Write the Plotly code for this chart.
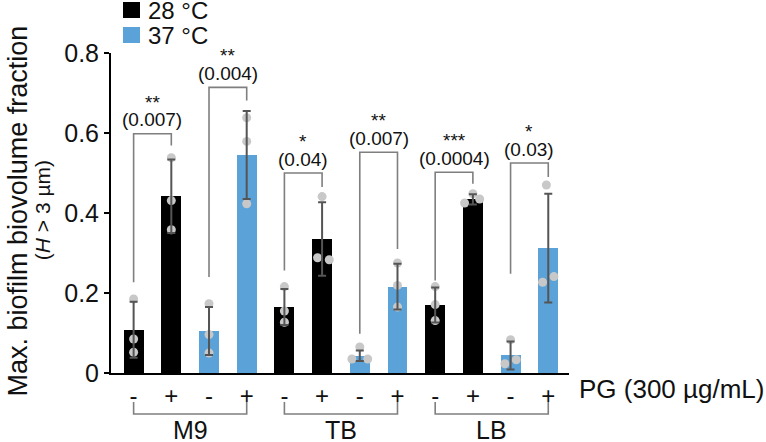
import plotly.graph_objects as go

# ---------------- data ----------------
conditions = ["-", "+", "-", "+", "-", "+", "-", "+", "-", "+", "-", "+"]
media = ["M9", "TB", "LB"]
temps = ["28 °C", "28 °C", "37 °C", "37 °C"] * 3
means = [0.108, 0.442, 0.105, 0.545,
         0.165, 0.335, 0.043, 0.216,
         0.170, 0.434, 0.044, 0.312]
errors = [0.070, 0.092, 0.060, 0.110,
          0.045, 0.092, 0.013, 0.057,
          0.044, 0.013, 0.035, 0.136]
replicates = [
    [0.185, 0.085, 0.052], [0.538, 0.431, 0.358], [0.173, 0.096, 0.050], [0.638, 0.579, 0.423],
    [0.216, 0.155, 0.127], [0.441, 0.288, 0.283], [0.065, 0.035, 0.035], [0.275, 0.219, 0.165],
    [0.216, 0.171, 0.131], [0.425, 0.448, 0.435], [0.083, 0.023, 0.033], [0.470, 0.227, 0.241],
]
jitter = [
    [0, 0, 0], [0, 0, 0], [0, 0, 0], [0, 0, 0],
    [0, 0, 0], [0, -0.12, 0.19], [0, -0.21, 0.21], [0, 0, 0],
    [0, 0, 0], [-0.22, 0, 0.18], [0, -0.15, 0.15], [-0.05, -0.15, 0.15],
]
sig_pairs = [(0, 1), (2, 3), (4, 5), (6, 7), (8, 9), (10, 11)]
sig_top = [0.598, 0.714, 0.500, 0.552, 0.502, 0.525]
sig_left_bottom = [0.227, 0.240, 0.256, 0.098, 0.231, 0.248]
sig_right_bottom = [0.569, 0.681, 0.465, 0.310, 0.473, 0.490]
sig_p = ["(0.007)", "(0.004)", "(0.04)", "(0.007)", "(0.0004)", "(0.03)"]
sig_stars = ["**", "**", "*", "**", "***", "*"]
yticks = [0, 0.2, 0.4, 0.6, 0.8]

# ---------------- style ----------------
COL = {"28 °C": "#000000", "37 °C": "#5aa2d8"}
FONT = "Liberation Sans, Arial, sans-serif"
PT_COL = "#c8c8c8"
ERR_COL = "#555555"
BR_COL = "#7f7f7f"

xs = list(range(len(conditions)))
fig = go.Figure()

for t in ["28 °C", "37 °C"]:
    idx = [i for i in xs if temps[i] == t]
    fig.add_trace(go.Bar(
        x=idx, y=[means[i] for i in idx], name=t,
        marker=dict(color=COL[t], line=dict(width=0)),
        width=0.53, showlegend=False))

# replicate points
px, py = [], []
for i in xs:
    for v, j in zip(replicates[i], jitter[i]):
        px.append(i + j)
        py.append(v)
fig.add_trace(go.Scatter(x=px, y=py, mode="markers",
                         marker=dict(color=PT_COL, size=9, line=dict(width=0)),
                         showlegend=False, cliponaxis=False))

# error bars on top
fig.add_trace(go.Scatter(x=xs, y=means, mode="markers",
                         marker=dict(size=0.1, color="rgba(0,0,0,0)"),
                         error_y=dict(type="data", array=errors, visible=True,
                                      color=ERR_COL, thickness=2, width=4),
                         showlegend=False))

# significance brackets
for k, (a, b) in enumerate(sig_pairs):
    fig.add_trace(go.Scatter(
        x=[a, a, b, b],
        y=[sig_left_bottom[k], sig_top[k], sig_top[k], sig_right_bottom[k]],
        mode="lines", line=dict(color=BR_COL, width=1.6),
        showlegend=False, hoverinfo="skip"))
    xm = (a + b) / 2
    fig.add_annotation(x=xm, y=sig_top[k] + 0.035, text=sig_p[k], showarrow=False,
                       xref="x", yref="y", yanchor="middle",
                       font=dict(size=19, color="#111111", family=FONT))
    fig.add_annotation(x=xm, y=sig_top[k] + 0.079, text=sig_stars[k], showarrow=False,
                       xref="x", yref="y", yanchor="middle",
                       font=dict(size=19, color="#111111", family=FONT))

# group brackets under x axis
for g, m in enumerate(media):
    a, b = 4 * g, 4 * g + 3
    fig.add_shape(type="path", xref="x", yref="paper",
                  path=f"M {a} -0.0906 L {a} -0.128 L {b} -0.128 L {b} -0.0906",
                  line=dict(color=BR_COL, width=1.6))
    fig.add_annotation(x=(a + b) / 2, y=-0.178, xref="x", yref="paper", text=m,
                       showarrow=False, yanchor="middle",
                       font=dict(size=25, color="#111111", family=FONT))

fig.add_annotation(x=1.0175, y=-0.05, xref="paper", yref="paper", text="PG (300 µg/mL)",
                   showarrow=False, xanchor="left", yanchor="middle",
                   font=dict(size=26, color="#111111", family=FONT))

# y-axis title
fig.add_annotation(x=-0.203, y=0.505, xref="paper", yref="paper",
                   text="Max. biofilm biovolume fraction", textangle=-90,
                   showarrow=False, xanchor="center", yanchor="middle",
                   font=dict(size=27, color="#111111", family=FONT))
fig.add_annotation(x=-0.1505, y=0.509, xref="paper", yref="paper",
                   text="(<i>H</i> > 3 µm)", textangle=-90,
                   showarrow=False, xanchor="center", yanchor="middle",
                   font=dict(size=21, color="#111111", family=FONT))

# manual legend
for r, t in enumerate(["28 °C", "37 °C"]):
    top = 2 + r * 25
    fig.add_shape(type="rect", xref="paper", yref="paper",
                  x0=(123 - 111) / 458, x1=(140 - 111) / 458,
                  y0=(373 - top) / 320, y1=(373 - top - 16) / 320,
                  fillcolor=COL[t], line=dict(width=0))
    fig.add_annotation(x=(146 - 111) / 458, y=(373 - top - 8) / 320, xref="paper", yref="paper",
                       text=t, showarrow=False, xanchor="left", yanchor="middle",
                       font=dict(size=24, color="#111111", family=FONT))

fig.update_layout(
    width=766, height=442,
    margin=dict(l=111, r=197, t=53, b=69),
    paper_bgcolor="white", plot_bgcolor="white",
    bargap=0,
    font=dict(family=FONT, color="#111111"),
    xaxis=dict(range=[-0.6, 11.55], tickvals=xs, ticktext=conditions,
               showline=True, linecolor="black", linewidth=2, ticks="",
               showgrid=False, zeroline=False,
               tickfont=dict(size=24, family=FONT, color="#111111")),
    yaxis=dict(range=[0, 0.8], tickvals=yticks, ticktext=["0", "0.2", "0.4", "0.6", "0.8"],
               showline=True, linecolor="black", linewidth=2,
               ticks="outside", ticklen=5, tickwidth=2, tickcolor="black",
               showgrid=False, zeroline=False,
               tickfont=dict(size=25, family=FONT, color="#111111")),
)

fig.write_html("out.html", config={"displayModeBar": False},
               post_script="document.body.style.margin='0';document.body.style.overflow='hidden';")
